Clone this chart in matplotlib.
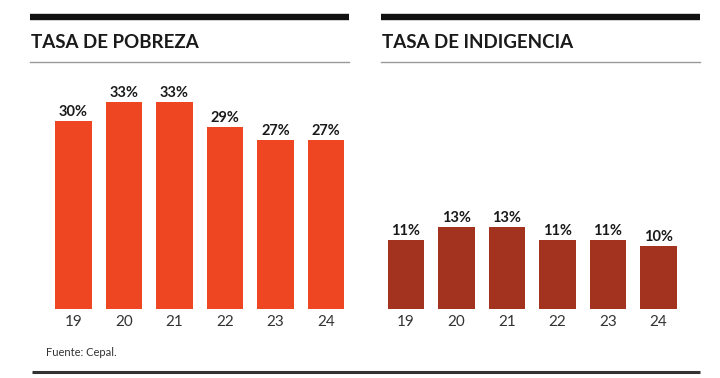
import matplotlib
matplotlib.use("Agg")
import matplotlib.pyplot as plt
from matplotlib.lines import Line2D

years = ["19", "20", "21", "22", "23", "24"]
pobreza = [30, 33, 33, 29, 27, 27]
indigencia = [11, 13, 13, 11, 11, 10]
title_left = "TASA DE POBREZA"
title_right = "TASA DE INDIGENCIA"
source = "Fuente: Cepal."

FONT = ["Lato", "Liberation Sans", "DejaVu Sans"]
plt.rcParams['font.family'] = FONT

W, H = 720, 378
fig = plt.figure(figsize=(7.2, 3.78), dpi=100)
fig.patch.set_facecolor("white")

def add_panel(x0, x1, ax_left, vals, color, title):
    fig.add_artist(Line2D([x0 / W, x1 / W], [1 - 17 / H] * 2, color="#111111", lw=4.6, solid_capstyle="butt"))
    fig.add_artist(Line2D([x0 / W, x1 / W], [1 - 61.5 / H] * 2, color="#999999", lw=1.0))
    fig.text(x0 / W + 1 / W, 1 - 43 / H, title, fontsize=13.5, fontweight="bold",
             color="#1a1a1a", va="center", ha="left")
    base = 308.5
    scale = 6.25
    top = 62
    ax = fig.add_axes([ax_left / W, 1 - base / H, 303 / W, (base - top) / H])
    x = range(len(vals))
    ax.bar(x, vals, width=0.73, color=color)
    ax.set_xlim(-0.5, 5.5)
    ax.set_ylim(0, (base - top) / scale)
    ax.set_xticks(list(x))
    ax.set_xticklabels(years, fontsize=11, color="#333333")
    ax.tick_params(axis="x", length=0, pad=5)
    ax.set_yticks([])
    for s in ax.spines.values():
        s.set_visible(False)
    ax.patch.set_alpha(0)
    for i, v in enumerate(vals):
        ax.text(i, v + 0.35, f"{v}%", ha="center", va="bottom", fontsize=10.5,
                fontweight="bold", color="#1a1a1a")
    return ax

add_panel(30, 349, 48.25, pobreza, "#EE4622", title_left)
add_panel(381, 700, 380.7, indigencia, "#A3321F", title_right)

fig.text(46 / W, 1 - 352 / H, source, fontsize=8, color="#333333", va="center", ha="left")
fig.add_artist(Line2D([32 / W, 700 / W], [1 - 372 / H] * 2, color="#333333", lw=2.2, solid_capstyle="butt"))

fig.savefig("out.png", dpi=100, facecolor="white")
